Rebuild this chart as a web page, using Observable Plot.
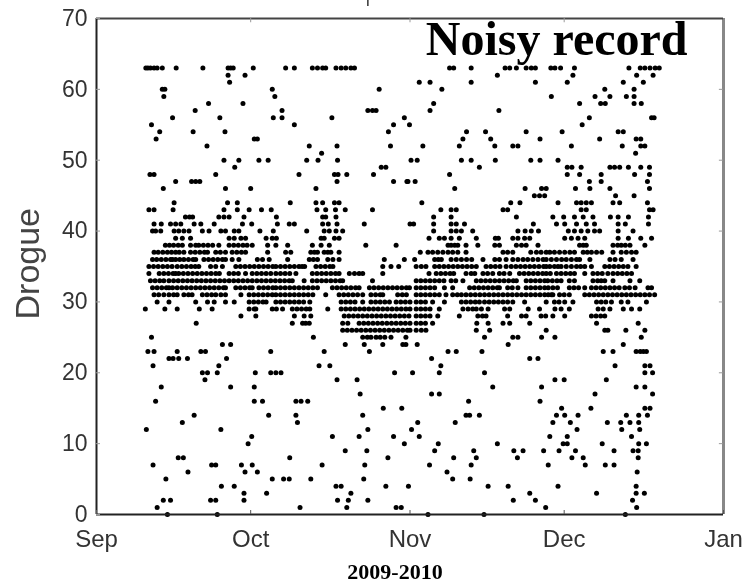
<!DOCTYPE html>
<html><head><meta charset="utf-8">
<script src="https://cdn.jsdelivr.net/npm/d3@7"></script>
<script src="https://cdn.jsdelivr.net/npm/@observablehq/plot@0.6"></script>
<style>html,body{margin:0;padding:0;background:#fff}svg{display:block;filter:blur(.55px)}</style>
</head><body><div id="chart"></div>
<script>
// Days since 1 Sep 2009 for each recorded Drogue level
const d63=[9.6,10,10.5,11.2,11.8,12.8,15.5,20.7,25.6,26.1,26.6,30.5,36.8,38.5,42,43,44,44.6,46.6,47.6,48.5,49.5,50.2,68.7,69.5,72.9,79.5,80.4,81.7,83.6,84.6,85.4,88.4,89.2,90.3,93,103.6,105.8,106.7,107.7,108.7,109.5];
const d62=[25.6,28.9,78,92.7,105.1,108.3];
const d61=[25.9,62.8,64.9,72.9,85.4,91.6,102.5,106.4];
const d60=[12.8,13.3,34.2,55,67.2,98.9,104.6];
const d59=[13.1,34.7,88.5,97,99.9,103.1,104.6];
const d58=[21.8,28.5,65.6,94,98.1,99,104.6,106];
const d57=[19.2,36.1,52.8,53.7,54.4,64.9,78.3];
const d56=[14.8,24,34.4,36.1,45.8,59.9,95.9,108,108.5];
const d55=[10.7,38.5,57.8,60.9,94.5];
const d54=[12.3,18.8,25,56.8,72,75.7,83.6,90.6,101.5,102.5];
const d53=[11.6,30.7,31.3,71.3,76.7,86.3,97.9,105,105.9];
const d52=[21.5,41.4,46.8,57.2,63.5,70.6,77.5,81,82,92.4,102.3,105.9,106.7];
const d51=[43.8,104.9];
const d50=[24.8,27.7,31.6,33.4,40.9,43.1,46.9,61.2,62.4,71,72.9,77.6,84.5,86.3,89.8];
const d49=[26.9,55.4,56.3,74.5,91.6,92.5,94.3,99.9,100.8,101.8,103.5,105.9,107.6];
const d48=[10.4,11.2,23.2,39.4,46.3,47,48.7,53.9,68.7,91.6,94,98.2,104.7,107.6];
const d47=[15.4,18.5,19.3,20.1,46.8,57.8,60.4,60.6,62,95.9,98.2,107.2];
const d46=[13,25.1,30,42.7,69.7,83.4,86.6,87.5,93.2,96,99.9,107.6];
const d45=[85.2,86.2,87.2,101,104.6];
const d44=[15.1,25.5,27.4,37.7,42.7,44,46.3,47.2,63.3,80.6,82.4,89.8,93.4,94.3,95.3,96.3,100.5,101.8,107.2];
const d43=[10.2,11.2,14.9,24.8,27.4,29.7,32.1,34,42.9,44.6,46.5,48.4,53.7,67,69,70,79.1,80,94.3,95.3,107.6,108.3];
const d42=[17.3,18.1,18.7,23.8,24.8,25.8,28.7,35,44,44.6,46.6,65.6,69,81.7,88.8,90.9,93,94.7,96.6,100,101.5,103.5,107.4];
const d41=[11.2,12.6,14.4,15.4,16.4,19,20.3,22.9,28.4,30.2,35.2,37.5,38.5,44,45.1,46.8,52.1,61,61.7,65.6,69,70,71.6,85,89.5,91.1,93.4,95.3,96.9,101.5,102.9,107.4];
const d40=[10.9,11.5,12.5,15.1,16,17,18,20.6,21.9,24.2,25.1,26.8,27.7,31.8,34.4,40.9,44.3,45.3,46.6,47.9,65.6,69,70,71,73.2,82,83.4,84.6,86,91.8,93,94.3,95.6,96.9,97.9,101.5,104.4];
const d39=[15.4,16.7,18.3,25.8,26.8,28.1,29,33,34.2,35,43.7,44.3,46.3,47.2,64.7,66.7,67.7,69,70.6,73.9,77.6,78.2,81,82,83.3,84.3,91.1,92.4,93.7,95,101.5,103.5,105.9,108];
const d38=[13.4,14.2,15,15.9,16.7,18.3,19.3,19.9,20.8,21.7,22.6,23.8,25.8,26.7,27.6,28.5,29.3,30.3,33.3,34.9,37.2,42,43.7,45.3,52.4,58.3,68.4,69,69.7,70.3,71.9,74.2,77.5,78.4,81.7,82.7,83.6,85.9,94,94.7,95.3,100.5,101.4,102.1,102.9,103.8,106.7];
const d37=[11.2,12,12.9,13.8,14.6,15.4,16.1,17,18.3,19.2,20.1,21,21.6,23.2,24.1,25.1,26.4,27.3,28.2,29,33.3,36.8,37.8,41.7,42.4,43,44.3,45,45.6,47.2,63,64.5,65.4,66.4,67.4,68.4,69.3,70.3,71.9,79.1,80,81,84.5,85.6,86.5,87.5,88.2,89.1,90.1,91.1,92.1,93,94.7,95.5,96.3,97.3,98.3,100.5,102.1,103.1,104.1,105];
const d36=[10.9,11.7,12.6,13.5,14.4,14.8,15.4,16.2,17,17.9,18.8,19.3,20.9,21.8,22.7,23.6,24.5,25.1,26.4,27.7,31.3,32.3,33.6,37.2,41.4,42.2,43,45,46,47.2,56,59.9,61.9,65.8,66.5,67.1,69,70,71,72,73,75.2,77.5,78.4,79.7,81,82,83,83.9,84.9,85.9,86.9,87.5,88.5,89.5,90.5,91.4,92.4,93.4,94,96,99.9,100.9,102.1,104.4];
const d35=[10.2,11.1,12,12.9,13.8,14.7,15.7,16.6,17.5,18.4,19.2,19.9,22.2,23.2,24.5,27.1,28,28.9,29.8,30.7,31.6,32.5,33.4,34.3,34.9,35.8,36.7,37.6,38.5,39.4,40,40.5,42.7,43.6,44.5,45.4,46,55.7,57.3,58.8,62.2,63.2,64.1,65.8,66.7,67.6,68.5,69.4,70.3,71.2,72.1,73,73.9,75.8,76.7,77.6,78.5,79.7,80.7,81.6,82.5,83.4,84.3,85.2,86.1,87,87.5,88.2,89.1,89.8,90.4,91.4,92.4,93.4,94.2,95,96.3,98.9,99.8,100.7,101.6,102.5,103.4,105];
const d34=[10.2,12.2,13.1,14,14.9,15.4,16,16.9,17.8,18.7,19.6,20.5,21.4,22.3,23.2,23.9,25.8,26.7,27.6,29,30.3,31.2,32.1,33,33.9,34.9,35.8,36.7,37.6,38.8,42,42.9,43.8,44.7,45.6,46.5,47.2,49.2,50.2,51.1,51.8,55.7,64.7,66.1,67,67.9,68.8,69.5,71.9,72.9,73.6,75.2,76.1,77.1,78.4,79.3,80.4,82.3,83.2,84.1,85,85.9,86.8,87.5,88.3,89.5,90.4,91.3,92.2,93,95,96.6,97.5,98.4,99.5,100.5,101.4,102.3,103.2,104.1];
const d33=[10.5,11.4,12.3,13.1,14.1,15,15.9,16.8,17.7,18.6,19.5,20.4,21.3,22.2,23.1,24,24.9,25.8,26.7,27.6,28.5,29.4,30.3,31.2,32.1,33,33.9,34.8,35.7,36.6,37.5,38.1,40.4,42,42.9,43.8,44.7,45.6,46.5,47.4,47.9,53.7,62.2,63.1,64,64.9,65.8,66.7,67.6,69,69.9,71.3,73.9,74.8,75.7,76.6,77.5,78.4,79.3,80.2,81.1,81.7,83.6,84.5,85.4,86.3,87.2,87.8,88.7,89.6,90.4,92,93,96.6,97.5,98.2,98.9,100.5,103.8,105.7];
const d32=[10.9,11.8,12.7,13.6,14.1,14.8,15.7,16.6,17.5,18.4,19.3,20.2,21.1,22,22.9,23.8,24.7,25.1,27.1,28,28.9,29.8,30.3,31.6,32.5,33.4,34.3,34.9,35.8,36.7,37.6,38.5,39.4,40.3,41.2,42.1,43,45.9,46.8,47.7,48.6,49.5,50.4,51.1,53.1,54,54.9,55.8,56.7,57.6,58.5,59.4,60.3,60.9,62.2,63.1,64,64.9,65.8,67.7,69.3,72.6,73.5,74.4,75.3,76.2,77.1,78,78.4,80,80.9,82,83.6,84.5,85.4,86.3,87.2,87.9,88.8,89.7,92,92.9,93.8,95,96.3,97.2,98.1,99,99.9,100.8,101.7,102.8,103.7,104.8,107.3,108];
const d31=[11.2,12.1,13.1,14.1,15,15.7,17,17.9,18.6,20.6,21.5,22.4,23.2,24.2,25.1,28.1,29.7,30.6,31.5,32.4,33.3,34.2,34.9,35.8,36.7,37.6,38.5,39.4,40.3,41.2,42.1,44.6,47.2,48.1,49,49.9,50.8,51.8,53.4,54.3,55.2,55.7,58.6,59.5,60.3,62.2,63.1,64,64.9,65.8,66.7,68,69.3,70.2,71,71.9,72.8,73.7,74.6,75.5,76.4,77.3,78.2,79.1,80,80.9,81.8,82.7,83.6,84.5,85.4,86.3,87.2,87.9,88.5,88.8,90.1,91,92,95,95.9,96.8,97.7,98.6,99.5,100.4,101.3,102.2,103.1,104,104.9,105.8,106.7,107.6,108.6];
const d30=[11.8,14.1,19.3,21.6,22.9,25.1,26.8,29.7,30.6,31.5,32.4,33,34.9,35.8,36.7,37.6,38.5,39.4,40.3,41.5,47.6,48.5,49.4,50.3,51.8,53.4,54.3,55.2,56.1,57,58.3,59.2,60.1,61,62.2,63.1,64,65.4,67.7,71,71.9,72.8,73.7,74.5,75.5,76.4,77.3,78.2,79.1,80,81,83.3,87.5,89.1,90,91.1,92.7,97.3,98.2,99.1,100.2,102.1,103.4,107];
const d29=[9.5,13.3,15.7,20,22.5,29.7,30.7,31,34.2,35,36.2,38.1,39,39.9,40.8,41.5,45,47.6,48.5,49.4,50.3,51.2,52.1,53,53.9,54.8,55.7,56.6,57.5,58.4,59.3,60.2,61,62.2,63.1,64,64.9,66.7,71.3,72.3,73.2,73.9,74.9,76.2,79.4,80.4,84,86.2,89.2,90.4,92,97.6,98.6,99.9,102.5,104.1,105.7];
const d28=[28.1,31,38.5,40.4,41.7,48.2,49.1,50,50.9,51.8,52.7,53.6,54.5,55.4,56.3,57.2,58.1,59,59.9,60.8,62.2,63.1,64,64.9,66.4,70.6,74.2,75.1,75.8,80,82.7,83.6,86.5,87.4,88.8,91.1,96.3,97.2,98.1,98.9];
const d27=[19.4,38.1,40.1,40.7,41.4,47.9,48.9,51.1,52,52.9,53.8,54.7,55.6,56.5,57.4,58.3,59.2,60.1,61,62.2,63.1,64,65.4,74,76.2,79.1,80.4,84.3,97.3,105.4];
const d26=[47.9,48.8,49.7,50.6,51.5,52.4,53.3,54.2,55.1,56,56.9,57.8,58.7,59.6,60.5,61,62.2,63.2,64.1,73.9,76.5,87.5,98.9,99.5,103,106.7];
const d25=[10.7,42.2,51.8,52.7,53.4,54.4,55.2,56.1,57.3,60.2,75.5,81,82,86.6,89.2,106];
const d24=[24.5,26.1,48.4,52.1,55.7,59.6,60.2,62.4,80.1,102.5];
const d23=[10,11.2,15.7,20.3,21.2,33.9,44.3,53.1,68.4,70,75,98.6,100.5,105,105.8,106.4,107];
const d22=[14.1,14.9,16,17.7,25.3,65.2,84.3,85.9];
const d21=[11,23.8,43.3,45.4,67,100.9,106.7,107.7];
const d20=[20.6,21.6,23.5,30.9,33.9,34.9,35.9,58,61.5,66.7,75.5,106.7,108.2];
const d19=[21.1,46.8,50.7,89.2,91,99.2];
const d18=[12.6,26.1,30.7,77.1,86.6,105,106.7];
const d17=[51.3,65.2,66.7,97,108.2];
const d16=[11.5,30.7,32.3,38.8,39.8,41.1,72.4,86.3];
const d15=[55.8,59.4,90.5,96.2,106.7,107.7];
const d14=[19,33.5,38.8,51.8,71.9,72.6,74.5,89.5,91.1,93.7,103.1,105.5,107.2];
const d13=[16.7,39.1,62.5,69.8,88.8,92.2,99.4,102,103.8,105.5];
const d12=[9.7,24.2,52.8,61.3,93.5,102.2,105.7];
const d11=[30.2,45.9,51.1,57.8,62.8,88.2,91.6,104.1];
const d10=[29.5,59.9,66.5,78,90.8,91.6,98.4,105.5,107];
const d9=[48.4,52.6,65.8,73.4,81.2,83,87,90,93.2,100.7,104.4,105.4];
const d8=[15.9,16.9,37.6,56.7,69.5,73.9,81.9,92.5,94.7,105.4];
const d7=[11,22.4,23.2,28.2,30.3,43.9,52.2,64.8,72.9,87.9,95.1,99,100.7];
const d6=[17.8,28.9,31.3,68.2,105.2];
const d5=[13.5,34.2,36.4,37.5,41.7,52,69.3,72.7];
const d4=[24.3,26.8,46.6,47.6,56.3,60.7,76.2,80.1,89.8,105];
const d3=[28.7,33.1,49.5,84.3,97.3,105,106.6];
const d2=[13,14.4,22.2,23.2,28.7,46.9,49,52.8,81.1,85.4,104.3];
const d1=[11.8,39.6,48.7,58.3,59.3,87.4,105.1];
const d0=[13.8,23.5,64.5,75.4,102.9];
const rows=[d0,d1,d2,d3,d4,d5,d6,d7,d8,d9,d10,d11,d12,d13,d14,d15,d16,d17,d18,d19,d20,d21,d22,d23,d24,d25,d26,d27,d28,d29,d30,d31,d32,d33,d34,d35,d36,d37,d38,d39,d40,d41,d42,d43,d44,d45,d46,d47,d48,d49,d50,d51,d52,d53,d54,d55,d56,d57,d58,d59,d60,d61,d62,d63];

const monthTicks=["2009-09-01","2009-10-01","2009-11-01","2009-12-01","2010-01-01"].map(s=>new Date(s));
const monthNames=["Sep","Oct","Nov","Dec","Jan"];
const drogueTicks=[0,10,20,30,40,50,60,70];
const start=monthTicks[0], end=monthTicks[4];
const toDate=d=>new Date(+start+d*864e5);
const points=rows.flatMap((days,level)=>days.map(d=>({t:toDate(d),level})));
const serif="'Liberation Serif',serif", sans="'Liberation Sans',sans-serif";

const chart=Plot.plot({
  width:748,height:587,marginLeft:96,marginRight:25,marginTop:18,marginBottom:73,
  x:{type:"time",domain:[start,end]},
  y:{domain:[0,70]},
  style:{background:"#fff",overflow:"visible"},
  marks:[
    Plot.dot(points,{x:"t",y:"level",r:2.5,fill:"#000",stroke:"none"}),
    Plot.ruleX([end],{stroke:"#888",strokeWidth:3}),
    Plot.ruleY([70],{stroke:"#444",strokeWidth:2}),
    Plot.ruleX([start],{stroke:"#222",strokeWidth:2}),
    Plot.ruleY([0],{stroke:"#222",strokeWidth:2}),
    Plot.axisX({anchor:"bottom",ticks:monthTicks,tickFormat:t=>monthNames[monthTicks.findIndex(m=>+m===+t)],tickSize:-4,tickPadding:19,label:null,fontSize:24,fontFamily:sans,fill:"#333",stroke:"#555"}),
    Plot.axisY({anchor:"left",ticks:drogueTicks,tickSize:-4,tickPadding:13,label:null,fontSize:23,fontFamily:sans,fill:"#333",stroke:"#999"}),
    Plot.ruleX(monthTicks.slice(1,4),{y1:70,y2:69.4,stroke:"#999"}),
    Plot.ruleY(drogueTicks.slice(1,7),{x1:toDate(121.2),x2:end,stroke:"#999"}),
    Plot.ruleX([toDate(52.8)],{y1:71.7,y2:72.6,stroke:"#333",strokeWidth:1.5,clip:false}),
    Plot.text(["Noisy record"],{frameAnchor:"top-right",dx:-36,dy:2,fontSize:48,fontWeight:"bold",fontFamily:serif,fill:"#000"}),
    Plot.text(["2009-2010"],{frameAnchor:"bottom",dx:-15,dy:64,fontSize:22,fontWeight:"bold",fontFamily:serif,fill:"#000"}),
    Plot.text(["Drogue"],{frameAnchor:"left",rotate:-90,dx:-68,dy:53,fontSize:34,fontFamily:sans,fill:"#444"})
  ]
});
document.getElementById("chart").append(chart);
</script></body></html>
